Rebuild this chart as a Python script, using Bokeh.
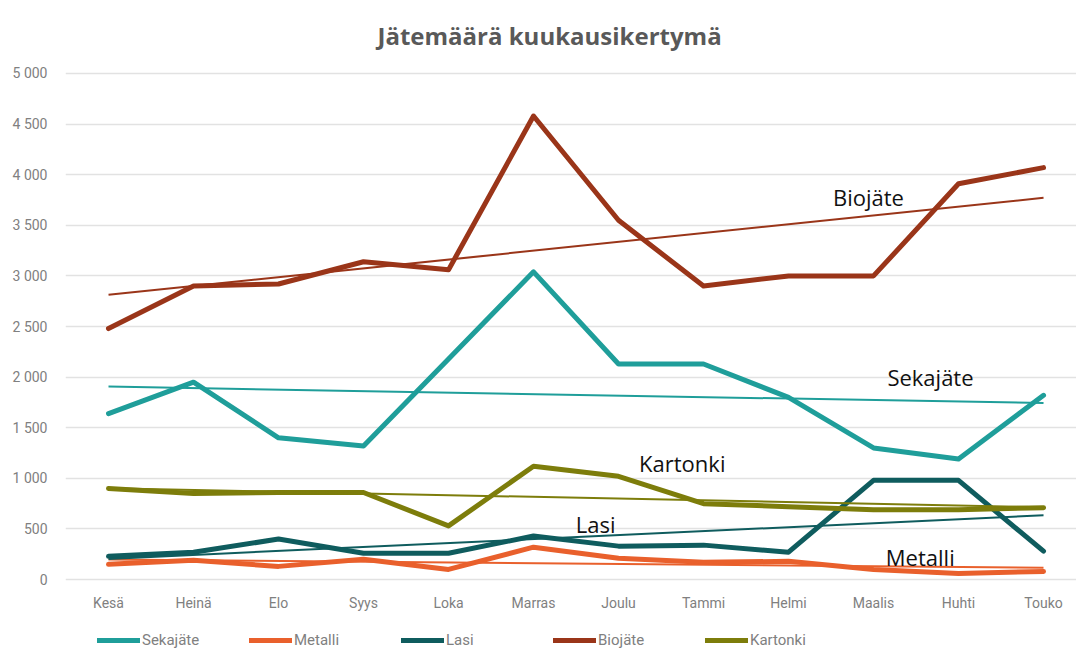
import numpy as np
from bokeh.plotting import figure
from bokeh.models import FixedTicker, Legend, LegendItem, Label, Range1d
from bokeh.embed import file_html
from bokeh.resources import INLINE

months = ["Kesä", "Heinä", "Elo", "Syys", "Loka", "Marras", "Joulu", "Tammi", "Helmi", "Maalis", "Huhti", "Touko"]
sekajate = [1640, 1950, 1400, 1320, 2180, 3040, 2130, 2130, 1800, 1300, 1190, 1820]
metalli = [150, 190, 130, 200, 100, 320, 210, 170, 180, 100, 60, 80]
lasi = [230, 270, 400, 260, 260, 430, 330, 340, 270, 980, 980, 280]
biojate = [2480, 2900, 2920, 3140, 3060, 4580, 3550, 2900, 3000, 3000, 3910, 4070]
kartonki = [900, 850, 860, 860, 530, 1120, 1020, 750, 720, 690, 690, 710]

y_ticks = [0, 500, 1000, 1500, 2000, 2500, 3000, 3500, 4000, 4500, 5000]
y_tick_labels = ["0", "500", "1 000", "1 500", "2 000", "2 500", "3 000", "3 500", "4 000", "4 500", "5 000"]

series = [
    ("Sekajäte", sekajate, "#1F9E9A"),
    ("Metalli", metalli, "#E9602C"),
    ("Lasi", lasi, "#0F5C5E"),
    ("Biojäte", biojate, "#9A3519"),
    ("Kartonki", kartonki, "#7D7D0B"),
]

# in-chart labels: (text, x position in months index, y value)
labels = [
    ("Biojäte", 8.94, 3775),
    ("Sekajäte", 9.67, 2006),
    ("Kartonki", 6.75, 1156),
    ("Lasi", 5.73, 553),
    ("Metalli", 9.55, 227),
]

TICK_FONT = "Roboto"

# frame spans the whole lower area; month labels are drawn by an axis pinned inside it
p = figure(width=1076, height=651, output_backend="svg", toolbar_location=None,
           x_axis_location="above",
           x_range=Range1d(-0.506, 11.388), y_range=Range1d(-711, 5079),
           min_border_left=65, min_border_right=0, min_border_top=65, min_border_bottom=0)
p.outline_line_color = None
p.background_fill_color = "white"

p.title.text = "Jätemäärä kuukausikertymä"
p.title.align = "left"
p.title.offset = 312
p.title.standoff = 24
p.title.vertical_align = "top"
p.title.text_font = "Open Sans"
p.title.text_font_size = "24px"
p.title.text_font_style = "bold"
p.title.text_color = "#595959"

x = np.arange(len(months))

p.xgrid.grid_line_color = None
p.ygrid.grid_line_color = "#E2E2E2"
p.ygrid.grid_line_width = 1.5

p.yaxis.ticker = FixedTicker(ticks=y_ticks)
p.yaxis.major_label_overrides = {t: l for t, l in zip(y_ticks, y_tick_labels)}
p.xaxis.ticker = FixedTicker(ticks=list(range(len(months))))
p.xaxis.major_label_overrides = {i: m for i, m in enumerate(months)}
p.xaxis.fixed_location = -405
for ax in (p.xaxis, p.yaxis):
    ax.axis_line_color = None
    ax.major_tick_line_color = None
    ax.minor_tick_line_color = None
    ax.major_label_text_font = TICK_FONT
    ax.major_label_text_font_size = "14px"
    ax.major_label_text_color = "#808080"
p.yaxis.major_label_standoff = 12
p.xaxis.major_label_standoff = 4

items = []
for name, vals, color in series:
    r = p.line(x, vals, line_color=color, line_width=5, line_cap="round", line_join="round")
    items.append(LegendItem(label=name, renderers=[r]))

for name, vals, color in series:
    k, b = np.polyfit(x, vals, 1)
    p.line([x[0], x[-1]], [b + k * x[0], b + k * x[-1]], line_color=color, line_width=2)

for txt, lx, ly in labels:
    p.add_layout(Label(x=lx, y=ly, text=txt, text_align="center", text_baseline="middle",
                       text_font="Open Sans", text_font_size="22px", text_color="#111111"))

legend = Legend(items=items, orientation="horizontal", location=(32, 2),
                glyph_width=43, glyph_height=8, label_standoff=2, label_width=107, spacing=0,
                padding=0, margin=0, border_line_color=None, background_fill_alpha=0,
                label_text_font=TICK_FONT, label_text_font_size="15px", label_text_color="#808080")
p.add_layout(legend, "center")

open("out.html", "w").write(file_html(p, INLINE))
